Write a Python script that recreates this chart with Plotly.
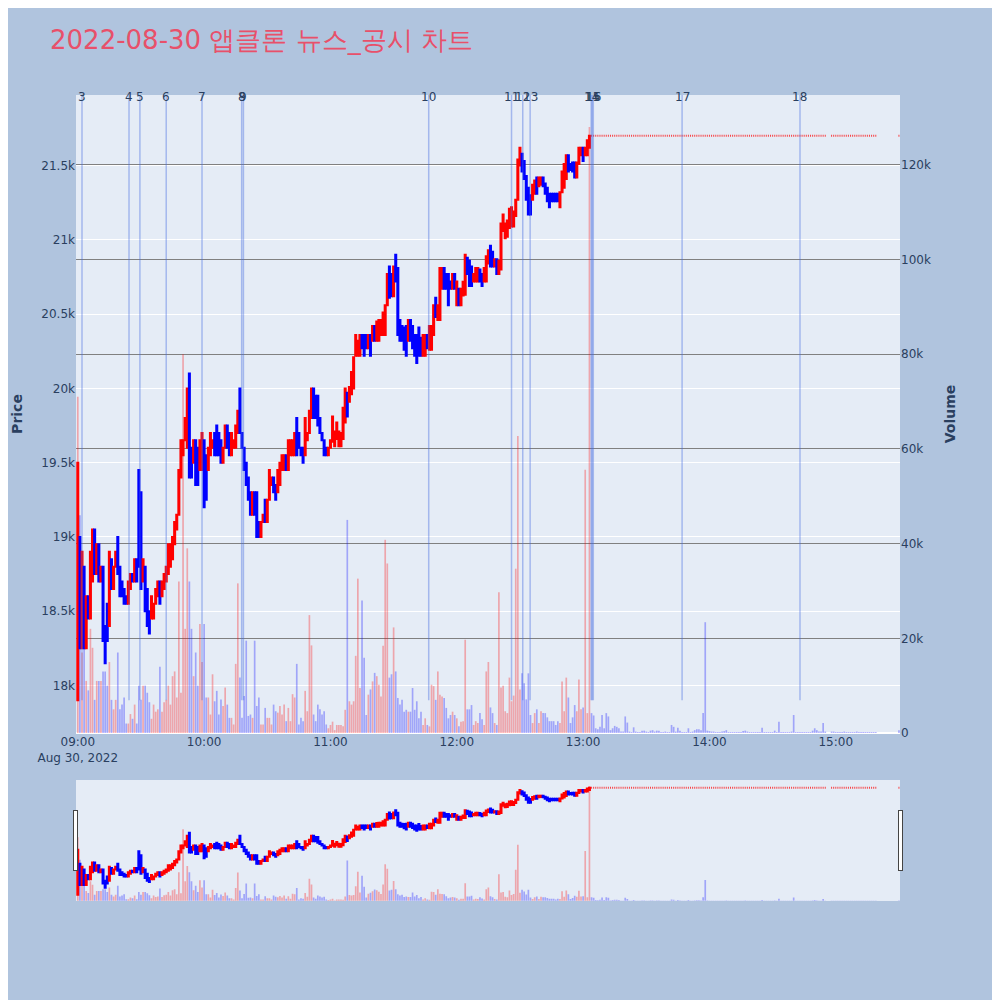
import pandas as pd
import plotly.graph_objects as go
from plotly.subplots import make_subplots

title = "2022-08-30 앱클론 뉴스_공시 차트"
start = pd.Timestamp("2022-08-30 09:00")

# 1 minute candles, 09:00 ~ 13:03
opens = [17900, 19000, 18250, 18800, 18250, 18600, 18450, 18700, 19050, 18750,
         18950, 18700, 18800, 18400, 18550, 18400, 18850, 18650, 18800, 19000,
         18800, 18700, 18650, 18600, 18550, 18650, 18750, 18700, 18850, 19450,
         19300, 18700, 18800, 18650, 18500, 18450, 18450, 18550, 18600, 18700,
         18600, 18650, 18700, 18750, 18800, 18850, 18950, 19050, 19150, 19400,
         19550, 19650, 19600, 20100, 19600, 19500, 19650, 19600, 19450, 19450,
         19650, 19550, 19450, 19550, 19600, 19700, 19750, 19700, 19650, 19500,
         19600, 19750, 19700, 19550, 19600, 19600, 19700, 20000, 19700, 19600,
         19500, 19400, 19300, 19150, 19300, 19300, 19100, 19000, 19100, 19250,
         19100, 19250, 19350, 19400, 19350, 19300, 19350, 19450, 19450, 19550,
         19450, 19550, 19550, 19550, 19800, 19700, 19600, 19600, 19550, 19650,
         19700, 19800, 20000, 19950, 19950, 19800, 19700, 19650, 19600, 19550,
         19600,
         19640, 19610, 19660, 19610, 19610, 19660, 19770, 19970, 19910, 19960,
         20000, 20220, 20220, 20220, 20360, 20360, 20360, 20270, 20360, 20320,
         20420, 20320, 20320, 20360, 20360, 20360, 20560, 20820, 20770, 20620,
         20900, 20810, 20460, 20420, 20410, 20420, 20320, 20460, 20420, 20360,
         20360, 20410, 20340, 20220, 20220, 20360, 20260, 20260, 20360, 20610,
         20460, 20460, 20670, 20810, 20770, 20770, 20720, 20670, 20770, 20560,
         20670, 20560,
         20625, 20630, 20880, 20860, 20820, 20720, 20720, 20720, 20800, 20770,
         20720, 20720, 20840, 20960, 20920, 20820, 20870, 20770, 20800, 21060,
         21010, 21020, 21080, 21090, 21090, 21160, 21270, 21500, 21580, 21530,
         21430, 21350, 21300, 21270, 21310, 21420, 21360, 21370, 21420, 21380,
         21350, 21310, 21310, 21310, 21310, 21310, 21220, 21320, 21350, 21410,
         21570, 21510, 21520, 21520, 21420, 21510, 21570, 21620, 21570, 21570,
         21620]
closes = [19500, 18250, 18900, 18250, 18600, 18450, 18900, 19050, 18750, 18950,
          18700, 18800, 18300, 18150, 18300, 18900, 18650, 18800, 18900, 18750,
          18600, 18600, 18550, 18550, 18700, 18750, 18700, 18850, 18700, 18800,
          18650, 18850, 18500, 18400, 18350, 18600, 18550, 18650, 18700, 18550,
          18700, 18750, 18800, 18950, 18950, 19000, 19100, 19150, 19450, 19650,
          19650, 19800, 20000, 19400, 19400, 19650, 19350, 19350, 19650, 19700,
          19200, 19250, 19600, 19700, 19650, 19550, 19550, 19550, 19500, 19600,
          19750, 19600, 19550, 19700, 19650, 19750, 19850, 19700, 19600, 19450,
          19350, 19250, 19150, 19300, 19150, 19000, 19000, 19100, 19150, 19100,
          19250, 19450, 19400, 19300, 19250, 19450, 19500, 19550, 19550, 19450,
          19650, 19650, 19650, 19700, 19550, 19600, 19550, 19500, 19800, 19700,
          19850, 20000, 19800, 19800, 19750, 19700, 19650, 19550, 19550, 19600,
          19650,
          19810, 19710, 19770, 19710, 19700, 19870, 20000, 19810, 20010, 20110,
          20210, 20360, 20320, 20360, 20270, 20220, 20270, 20360, 20220, 20420,
          20320, 20450, 20460, 20460, 20510, 20560, 20770, 20610, 20620, 20820,
          20720, 20360, 20320, 20320, 20260, 20220, 20460, 20320, 20270, 20220,
          20170, 20220, 20220, 20360, 20360, 20270, 20420, 20420, 20560, 20480,
          20560, 20810, 20810, 20670, 20670, 20560, 20670, 20770, 20670, 20720,
          20560, 20670,
          20717, 20900, 20770, 20690, 20690, 20770, 20810, 20810, 20720, 20690,
          20810, 20890, 20930, 20820, 20820, 20870, 20770, 20860, 21110, 21170,
          21110, 21130, 21210, 21220, 21190, 21270, 21540, 21620, 21460, 21410,
          21270, 21170, 21170, 21370, 21400, 21310, 21420, 21420, 21360, 21310,
          21260, 21220, 21260, 21260, 21260, 21260, 21320, 21460, 21510, 21570,
          21460, 21470, 21460, 21420, 21520, 21620, 21620, 21530, 21620, 21670,
          21700]
volumes_k = [71, 46, 17, 18, 11, 9, 22, 18, 7, 11,
             11, 11, 13, 13, 10, 15, 7, 5, 7, 17,
             5, 6, 7.5, 2, 2, 4, 3, 6, 2, 10,
             7, 10, 10, 8.5, 6.5, 3, 6, 4.5, 5, 14,
             4.5, 6.5, 7, 10, 6, 12, 13, 7.5, 32, 8.5,
             80, 22, 39, 32, 22, 12, 17, 10, 23, 15,
             23, 7.5, 7.5, 3.9, 12.4, 6.7, 8.9, 3.9, 7.1, 5.7,
             9.6, 6, 3.2, 3.2, 1.8, 14.6, 31.6, 11.7, 3.2, 7.8,
             19.5, 3.6, 3.9, 3.2, 19.5, 5.7, 7.5, 1.8, 1.8, 5.3,
             3.2, 3.2, 1.8, 6, 4.6, 4.3, 5.7, 3.9, 6, 2.5,
             5.3, 2.5, 8.2, 7.5, 14.6, 1.8, 3.2, 2.5, 8.9, 4.6,
             24.9, 18.5, 3.9, 2.5, 6, 5, 3.9, 4.6, 1.8, 1,
             1.7, 2.4, 0.6, 1.7, 1.7, 1.7, 1.4, 4.9, 45, 6.7,
             6, 6.7, 16.3, 32.6, 9.5, 28, 15.9, 3.8, 8.1, 9.2,
             10.9, 12.7, 12, 10.2, 7.7, 18.4, 40.8, 35.8, 11.7, 12.4,
             22.3, 13, 7.4, 6, 7, 4.5, 4.9, 4.5, 4.5, 9.5,
             4.9, 6.7, 3.1, 4.5, 1.7, 3.1, 1.7, 1.4, 10.2, 9.9,
             7, 13, 8.1, 7.7, 7.4, 5.3, 3.1, 3.8, 4.5, 3.8,
             3.1, 1.4, 2.4,
             2.5, 19.7, 5, 5, 5.9, 1.7, 2.5, 2.1, 4.2, 2.9,
             1.7, 13, 15, 5.4, 4.2, 2.1, 1.7, 29.7, 9.6, 10,
             4.6, 4.2, 11.7, 6.7, 7.9, 34.7, 62.7, 9.2, 12.6, 10.5,
             7.1, 12.6, 3.8, 2.1, 4.2, 5, 2.1, 4.6, 4.2, 4.2,
             3.3, 2.5, 2.5, 2.5, 1.7, 2.5, 2.1, 10.9, 4.6, 11.7,
             7.5, 2.1, 3.3, 5.9, 4.6, 11.3, 5, 5.4, 55.6, 4.2,
             128]

# after 13:04 only single price trades
after_price = 21700
after_minutes = list(range(244, 356)) + list(range(358, 380)) + [390]
after_volumes_k = [4.2, 3.7, 1.0, 0.8, 1.3, 3.8, 1.0, 4.2, 3.5, 0.6,
                   1.0, 1.5, 1.3, 1.0, 0.3, 0.3, 3.5, 2.2, 0.3, 0.2,
                   1.2, 0.3, 0.2, 0.2, 0.5, 0.5, 0.3, 0.2, 0.5, 0.6,
                   0.3, 0.5, 0.5, 0.2, 0.2, 0.3, 0.2, 0.2, 1.7, 1.3,
                   0.3, 1.1, 0.5, 0.2, 0.2, 0.2, 1.0, 0.2, 0.3, 0.6,
                   0.8, 0.8, 0.6, 4.2, 23.4, 0.5, 0.4, 0.3, 0.3, 0.2,
                   0.2, 0.2, 0.3, 0.4, 0.6, 0.2, 0.2, 0.2, 0.2, 0.2,
                   0.2, 0.2, 0.4, 0.5, 0.3, 0.2, 0.2, 0.2, 0.2, 0.2,
                   0.2, 1.1, 0.2, 0.2, 0.2, 0.2, 0.2, 0.5, 0.2, 2.4,
                   0.2, 0.2, 0.2, 0.2, 0.2, 0.3, 3.8, 0.2, 0.2, 0.2,
                   0.2, 0.2, 0.2, 0.2, 0.2, 0.5, 1.0, 0.6, 0.3, 0.3,
                   2.1, 0.3,
                   0.3, 0.3, 0.2, 0.2, 0.2, 0.2, 0.3, 0.2, 0.2, 0.2,
                   0.2, 0.2, 0.3, 0.2, 0.2, 0.2, 0.2, 0.2, 0.2, 0.2, 0.2, 0.2,
                   0.6]

# news / disclosure markers
news_no = [3, 4, 5, 6, 7, 8, 9, 10, 11, 12, 13, 14, 15, 16, 17, 18]
news_time = ["09:02", "09:24:20", "09:29:30", "09:42", "09:59", "10:17:50",
             "10:18:40", "11:46:40", "12:26", "12:31:20", "12:34:50", "13:03:50",
             "13:04:20", "13:04:50", "13:47", "14:43"]

x_session = [start + pd.Timedelta(minutes=i) for i in range(len(opens))]
x_after = [start + pd.Timedelta(minutes=m) for m in after_minutes]
highs = [max(o, c) for o, c in zip(opens, closes)]
lows = [min(o, c) for o, c in zip(opens, closes)]

vol_colors = ['rgba(255,0,0,0.3)' if c > o else 'rgba(0,0,255,0.3)' for o, c in zip(opens, closes)]
vol_colors += ['rgba(0,0,255,0.3)'] * len(after_minutes)

fig = make_subplots(specs=[[{"secondary_y": True}]])
fig.add_trace(go.Candlestick(x=x_session, open=opens, high=highs, low=lows, close=closes,
                             increasing=dict(line=dict(color='red', width=2), fillcolor='red'),
                             decreasing=dict(line=dict(color='blue', width=2), fillcolor='blue'),
                             name='price'), secondary_y=False)
fig.add_trace(go.Candlestick(x=x_after, open=[after_price] * len(x_after), high=[after_price] * len(x_after),
                             low=[after_price] * len(x_after), close=[after_price] * len(x_after),
                             increasing=dict(line=dict(color='rgba(255,0,0,0.7)', width=2), fillcolor='red'),
                             decreasing=dict(line=dict(color='rgba(255,0,0,0.7)', width=2), fillcolor='red'),
                             name='after'), secondary_y=False)
fig.add_trace(go.Bar(x=x_session + x_after, y=[v * 1000 for v in volumes_k + after_volumes_k],
                     marker=dict(color=vol_colors, line=dict(width=0)), name='volume'),
              secondary_y=True)

for n, t in zip(news_no, news_time):
    tx = pd.Timestamp("2022-08-30 " + t)
    fig.add_shape(type='line', xref='x', yref='y', x0=tx, x1=tx, y0=17900, y1=21975,
                  line=dict(color='rgba(65,105,225,0.4)', width=1.5))
    fig.add_annotation(x=tx, y=0.997, xref='x', yref='paper', yanchor='middle', text=str(n),
                       showarrow=False, font=dict(size=12, color='#2a3f5f'))

# the page puts the figure 8px in from the corner, margins allow for it
fig.update_layout(width=1000, height=1000, paper_bgcolor='lightsteelblue', showlegend=False,
                  font=dict(family='DejaVu Sans'),
                  title=dict(text=title, x=0.042, y=0.968, yanchor='middle',
                             font=dict(size=26, color='#E8506A')),
                  margin=dict(l=68, r=108, t=87, b=108))
fig.update_xaxes(rangeslider_visible=True, domain=[0, 1])
fig.update_yaxes(title_text='<b>Price</b>', range=[17680, 21975], automargin=False,
                 secondary_y=False)
fig.update_yaxes(title_text='<b>Volume</b>', gridcolor='gray', automargin=False,
                 secondary_y=True)

fig.write_html("out.html")
